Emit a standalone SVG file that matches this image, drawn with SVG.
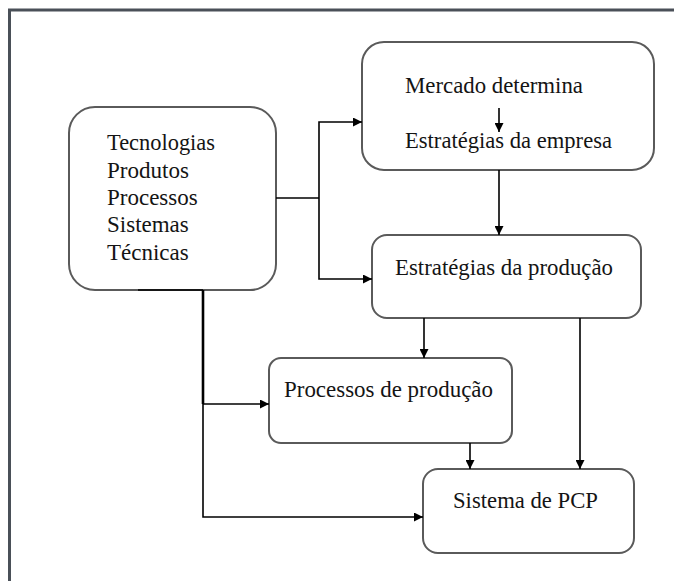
<svg xmlns="http://www.w3.org/2000/svg" width="674" height="581" viewBox="0 0 674 581">
  <defs>
    <marker id="arr" viewBox="0 0 10 10" refX="10" refY="5" markerWidth="10" markerHeight="9" markerUnits="userSpaceOnUse" orient="auto">
      <path d="M0,0 L10,5 L0,10 z" fill="#000"/>
    </marker>
  </defs>
  <style>
    .box { fill: #fff; stroke: #5a5a5a; stroke-width: 2; }
    .t { font-family: "Liberation Serif", "Times New Roman", serif; font-size: 23px; fill: #141414; }
    .c { fill: none; stroke: #000; stroke-width: 1.6; }
    .thick { fill: none; stroke: #000; stroke-width: 2.6; }
  </style>
  <rect width="674" height="581" fill="#fff"/>
  <path d="M9.5,581 L9.5,10 L674,10" fill="none" stroke="#4a5058" stroke-width="3"/>

  <g id="tecnologias">
    <rect class="box" x="69" y="107" width="207" height="183" rx="26"/>
    <text class="t" x="107" y="150" textLength="108" lengthAdjust="spacingAndGlyphs">Tecnologias</text>
    <text class="t" x="107" y="178" textLength="82" lengthAdjust="spacingAndGlyphs">Produtos</text>
    <text class="t" x="107" y="205">Processos</text>
    <text class="t" x="107" y="232">Sistemas</text>
    <text class="t" x="107" y="260">Técnicas</text>
  </g>

  <g id="mercado">
    <rect class="box" x="362" y="42" width="292" height="128" rx="22"/>
    <text class="t" x="405" y="93" textLength="178" lengthAdjust="spacingAndGlyphs">Mercado determina</text>
    <text class="t" x="405" y="148" textLength="207" lengthAdjust="spacingAndGlyphs">Estratégias da empresa</text>
    <line class="c" x1="499" y1="108" x2="499" y2="132" marker-end="url(#arr)"/>
  </g>

  <g id="estrategias-producao">
    <rect class="box" x="372" y="235" width="269" height="83" rx="15"/>
    <text class="t" x="395" y="275" textLength="218" lengthAdjust="spacingAndGlyphs">Estratégias da produção</text>
  </g>

  <g id="processos-producao">
    <rect class="box" x="269" y="358" width="243" height="85" rx="12"/>
    <text class="t" x="284" y="397" textLength="209" lengthAdjust="spacingAndGlyphs">Processos de produção</text>
  </g>

  <g id="sistema-pcp">
    <rect class="box" x="423" y="469" width="211" height="84" rx="15"/>
    <text class="t" x="453" y="508" textLength="145" lengthAdjust="spacingAndGlyphs">Sistema de PCP</text>
  </g>

  <g id="connectors">
    <path class="c" d="M276,198 L319,198"/>
    <path class="c" d="M319,198 L319,122 L362,122" marker-end="url(#arr)"/>
    <path class="c" d="M319,198 L319,279 L372,279" marker-end="url(#arr)"/>
    <path class="c" d="M499,170 L499,235" marker-end="url(#arr)"/>
    <path class="c" d="M424,318 L424,358" marker-end="url(#arr)"/>
    <path class="c" d="M580,318 L580,469" marker-end="url(#arr)"/>
    <path class="c" d="M470,443 L470,469" marker-end="url(#arr)"/>
    <path class="c" d="M138,290 L203,290"/>
    <path class="thick" d="M203,290 L203,404"/>
    <path class="c" d="M203,404 L203,517 L423,517" marker-end="url(#arr)"/>
    <path class="c" d="M203,404 L269,404" marker-end="url(#arr)"/>
  </g>
</svg>
